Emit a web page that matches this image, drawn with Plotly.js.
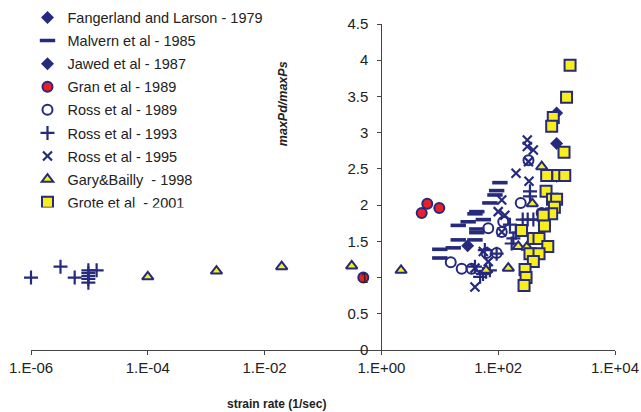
<!DOCTYPE html>
<html>
<head>
<meta charset="utf-8">
<script src="https://cdn.plot.ly/plotly-3.0.1.min.js"></script>
<style>html,body{margin:0;padding:0;background:#fff;}#chart{width:641px;height:412px;}</style>
</head>
<body>
<div id="chart"></div>
<script>
// ---- data ----
const seriesNames = ["Fangerland and Larson - 1979","Malvern et al - 1985","Jawed et al - 1987","Gran et al - 1989","Ross et al - 1989","Ross et al - 1993","Ross et al - 1995","Gary&Bailly  - 1998","Grote et al  - 2001"];

const fangX = [1000, 1000, 1000];
const fangY = [3.27, 2.85, 2.40];

const malvX = [10, 10, 17, 20.7, 40, 20.7, 30.6, 43, 43, 40, 55.6, 43, 72, 88, 94, 107];
const malvY = [1.27, 1.39, 1.41, 1.52, 1.52, 1.72, 1.77, 1.67, 1.91, 1.88, 1.80, 1.62, 2.03, 2.14, 2.20, 2.31];

const jawedX = [30];
const jawedY = [1.44];

const granX = [0.49, 4.9, 6.1, 9.8];
const granY = [1.0, 1.89, 2.02, 1.96];

const ross89X = [15.4, 23.7, 35, 63, 94, 67.6, 115, 122, 243, 555, 330];
const ross89Y = [1.21, 1.12, 1.12, 1.34, 1.34, 1.68, 1.63, 1.77, 2.03, 1.89, 2.62];

const ross93X = [1e-6, 3.2e-6, 5.6e-6, 9.6e-6, 9.6e-6, 9.6e-6, 9.6e-6, 9.6e-6, 1.33e-5, 40, 49, 55, 62, 72, 94, 59, 159, 170, 182, 200, 263, 320, 400, 500, 350, 350];
const ross93Y = [1.0, 1.15, 1.0, 0.93, 0.98, 1.02, 1.06, 1.10, 1.10, 1.15, 1.01, 1.05, 1.08, 1.10, 1.33, 1.38, 1.73, 1.47, 1.54, 1.62, 1.80, 1.80, 1.80, 1.80, 2.12, 2.19];

const ross95X = [315, 315, 400, 330, 202, 337, 115, 100, 130, 115, 55.6, 67.6, 40, 40];
const ross95Y = [2.90, 2.81, 2.76, 2.60, 2.44, 2.33, 2.07, 1.91, 1.86, 1.63, 1.36, 1.22, 1.13, 0.87];

const garyX = [1e-4, 1.5e-3, 0.0196, 0.31, 2.17, 62, 149, 221, 309, 384, 556];
const garyY = [1.01, 1.09, 1.15, 1.16, 1.10, 1.10, 1.13, 1.43, 1.42, 2.02, 2.53];

const groteX = [1700, 1480, 877, 824, 1340, 676, 1050, 1380, 660, 850, 1000, 917, 824, 590, 620, 251, 400, 500, 707, 350, 500, 400, 288, 300, 277];
const groteY = [3.93, 3.49, 3.21, 3.09, 2.73, 2.41, 2.41, 2.41, 2.19, 2.08, 2.08, 1.97, 1.88, 1.86, 1.71, 1.65, 1.54, 1.54, 1.43, 1.33, 1.33, 1.22, 1.11, 1.00, 0.89];

const xTickVals = [1e-6, 1e-4, 1e-2, 1, 1e2, 1e4];
const xTickText = ["1.E-06", "1.E-04", "1.E-02", "1.E+00", "1.E+02", "1.E+04"];

// ---- styling ----
const NAVY = "#262a7c";
const YEL = "#f7ee1a";
const RED = "#e8202a";

function tr(i, x, y, marker) {
  return {type: "scatter", mode: "markers", name: seriesNames[i], legendgroup: "g" + i,
          x: x, y: y, marker: marker, cliponaxis: false};
}

const traces = [
  tr(0, fangX, fangY, {symbol: "diamond", size: 10, color: NAVY, line: {width: 0}}),
  tr(1, malvX, malvY, {symbol: "line-ew", size: 11, color: NAVY, line: {width: 3.6, color: NAVY}}),
  tr(2, jawedX, jawedY, {symbol: "diamond", size: 10, color: NAVY, line: {width: 0}}),
  tr(3, granX, granY, {symbol: "circle", size: 10, color: RED, line: {width: 2, color: NAVY}}),
  tr(4, ross89X, ross89Y, {symbol: "circle-open", size: 10, color: NAVY, line: {width: 2, color: NAVY}}),
  tr(5, ross93X, ross93Y, {symbol: "cross-thin", size: 10, color: NAVY, line: {width: 2.2, color: NAVY}}),
  tr(6, ross95X, ross95Y, {symbol: "x-thin", size: 9, color: NAVY, line: {width: 2.2, color: NAVY}}),
  tr(7, garyX, garyY, {symbol: "triangle-up", size: 10, color: YEL, line: {width: 2, color: NAVY}}),
  tr(8, groteX, groteY, {symbol: "square", size: 11, color: YEL, line: {width: 2, color: NAVY}})
];

const FONT = "Liberation Sans, Arial, sans-serif";

const layout = {
  width: 641, height: 412,
  margin: {l: 31, r: 26, t: 24, b: 62, autoexpand: false},
  paper_bgcolor: "#fff", plot_bgcolor: "#fff",
  font: {family: FONT, size: 15, color: "#222"},
  showlegend: true,
  legend: {
    x: -0.006, y: 1.069, xanchor: "left", yanchor: "top",
    font: {family: FONT, size: 14.5, color: "#222"},
    bgcolor: "rgba(0,0,0,0)", tracegroupgap: 1.25, traceorder: "grouped", itemclick: false
  },
  xaxis: {
    type: "log", range: [-6, 4],
    tickvals: xTickVals, ticktext: xTickText,
    ticks: "outside", ticklen: 4, tickwidth: 1, tickcolor: "#444",
    showline: true, linecolor: "#444", linewidth: 1,
    showgrid: false, zeroline: false,
    tickfont: {family: FONT, size: 15, color: "#222"}
  },
  yaxis: {
    range: [0, 4.5], dtick: 0.5, tick0: 0,
    anchor: "free", position: 0.6,
    ticks: "outside", ticklen: 4, tickwidth: 1, tickcolor: "#444",
    ticklabelstandoff: 6,
    showline: true, linecolor: "#444", linewidth: 1,
    showgrid: false, zeroline: false,
    tickfont: {family: FONT, size: 15, color: "#222"}
  },
  annotations: [
    {text: "<b>strain rate (1/sec)</b>", xref: "paper", yref: "paper", x: 0.42, y: -0.166,
     showarrow: false, xanchor: "center", yanchor: "middle", font: {family: FONT, size: 12, color: "#222"}},
    {text: "<b><i>maxPd/maxPs</i></b>", xref: "paper", yref: "paper", x: 0.432, y: 0.755,
     showarrow: false, xanchor: "center", yanchor: "middle", textangle: -90, font: {family: FONT, size: 12.5, color: "#222"}}
  ]
};

Plotly.newPlot("chart", traces, layout, {displayModeBar: false, staticPlot: true});
</script>
</body>
</html>
